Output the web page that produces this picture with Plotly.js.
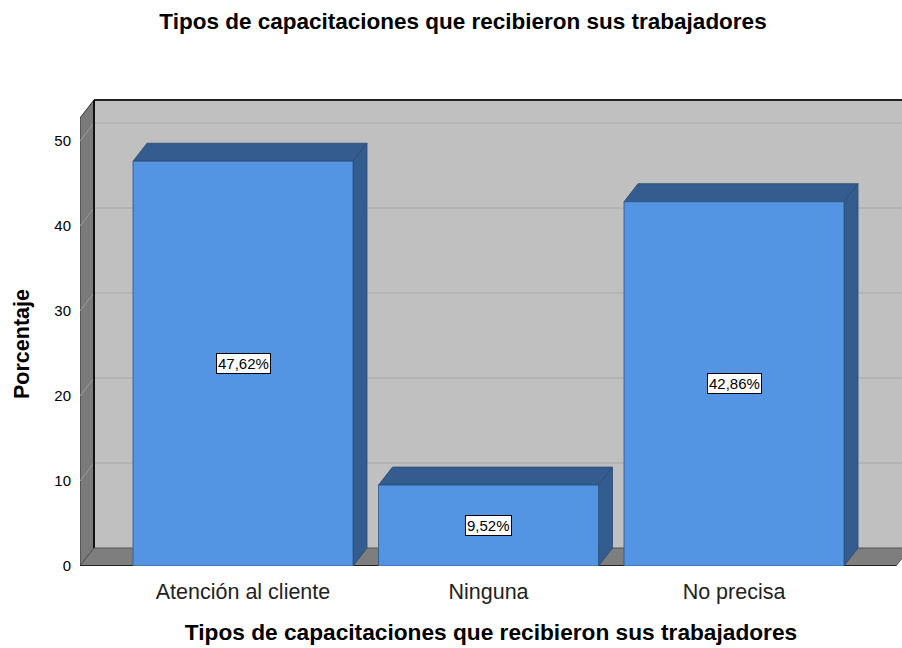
<!DOCTYPE html>
<html>
<head>
<meta charset="utf-8">
<script src="https://cdn.plot.ly/plotly-3.0.1.min.js"></script>
<style>html,body{margin:0;padding:0;background:#fff;}#chart{width:902px;height:648px;}</style>
</head>
<body>
<div id="chart"></div>
<script>
// ---- data ----
const categories = ["Atención al cliente", "Ninguna", "No precisa"];
const percentages = [47.62, 9.52, 42.86];
const yTickValues = [0, 10, 20, 30, 40, 50];
const chartTitle = "Tipos de capacitaciones que recibieron sus trabajadores";
const xTitle = "Tipos de capacitaciones que recibieron sus trabajadores";
const yTitle = "Porcentaje";

// ---- styling / geometry ----
const FONT = "Liberation Sans, Arial, sans-serif";
const frontColor = "#5394E3";
const darkFace = "#345C8F";
const wallColor = "#C0C0C0";
const sideWallColor = "#7A7A7A";
const gridColor = "#A8A8A8";

const W = 902, H = 648;
const mL = 80, mR = 0, mT = 98, mB = 82;
const plotW = W - mL - mR, plotH = H - mT - mB;
const pxPerY = 8.5;            // pixels per percentage unit
const pxPerX = 245.5;          // pixels per category step
const depthX = 14, depthY = 18; // 3D depth in px
const yMax = plotH / pxPerY;
const xMin = -(163 / pxPerX);
const xMax = xMin + plotW / pxPerX;
const dxu = depthX / pxPerX, dyu = depthY / pxPerY;
const barWidth = 220 / pxPerX;
const wallTop = (plotH - 2) / pxPerY;

const xs = categories.map((c, i) => i);

const shapes = [];
// back wall
shapes.push({type:"rect", xref:"x", yref:"y", layer:"below",
  x0:xMin+dxu, x1:xMax+1, y0:dyu, y1:wallTop,
  fillcolor:wallColor, line:{width:0}});
// back wall gridlines
yTickValues.forEach(v => {
  if (v === 0) return;
  shapes.push({type:"line", xref:"x", yref:"y", layer:"below",
    x0:xMin+dxu, x1:xMax+1, y0:v+dyu, y1:v+dyu, line:{color:gridColor, width:1}});
});
// back wall top edge
shapes.push({type:"line", xref:"x", yref:"y", layer:"below",
  x0:xMin+dxu, x1:xMax+1, y0:wallTop, y1:wallTop, line:{color:"#222", width:2}});
// left wall
const lw = `M ${xMin} 0 L ${xMin} ${wallTop-dyu} L ${xMin+dxu} ${wallTop} L ${xMin+dxu} ${dyu} Z`;
shapes.push({type:"path", xref:"x", yref:"y", layer:"below", path:lw,
  fillcolor:sideWallColor, line:{color:"#333", width:1}});
// left wall gridline extensions
yTickValues.forEach(v => {
  if (v === 0) return;
  shapes.push({type:"line", xref:"x", yref:"y", layer:"below",
    x0:xMin, x1:xMin+dxu, y0:v, y1:v+dyu, line:{color:"#9a9a9a", width:1}});
});
// back-left vertical edge
shapes.push({type:"line", xref:"x", yref:"y", layer:"below",
  x0:xMin+dxu, x1:xMin+dxu, y0:dyu, y1:wallTop, line:{color:"#111", width:2}});
// floor
const fr = xMax - 6 / pxPerX;
const fl = `M ${xMin} 0 L ${xMin+dxu} ${dyu} L ${fr+dxu} ${dyu} L ${fr} 0 Z`;
shapes.push({type:"path", xref:"x", yref:"y", layer:"below", path:fl,
  fillcolor:"#7E7E7E", line:{color:"#555", width:1}});
// front floor edge
shapes.push({type:"line", xref:"x", yref:"y", layer:"below",
  x0:xMin, x1:fr, y0:0, y1:0, line:{color:"#222", width:2}});
// bar top + side faces
xs.forEach((x, i) => {
  const v = percentages[i];
  const x0 = x - barWidth/2, x1 = x + barWidth/2;
  shapes.push({type:"path", xref:"x", yref:"y", layer:"below",
    path:`M ${x0} ${v} L ${x0+dxu} ${v+dyu} L ${x1+dxu} ${v+dyu} L ${x1} ${v} Z`,
    fillcolor:darkFace, line:{color:"#2A4A72", width:0.8}});
  shapes.push({type:"path", xref:"x", yref:"y", layer:"below",
    path:`M ${x1} 0 L ${x1} ${v} L ${x1+dxu} ${v+dyu} L ${x1+dxu} ${dyu} Z`,
    fillcolor:darkFace, line:{color:"#2A4A72", width:0.8}});
});

const annotations = xs.map((x, i) => ({
  x: x, y: percentages[i] / 2, xref:"x", yref:"y",
  text: percentages[i].toFixed(2).replace(".", ",") + "%",
  showarrow:false, bgcolor:"#fff", bordercolor:"#000", borderwidth:1, borderpad:1,
  font:{family:FONT, size:15, color:"#000"}
}));
// y axis title (placed centred on the front value axis)
annotations.push({
  text:"<b>"+yTitle+"</b>", textangle:-90, showarrow:false,
  xref:"paper", yref:"paper", x:(22 - mL) / plotW, y:(566 - 344) / plotH,
  xanchor:"center", yanchor:"middle",
  font:{family:FONT, size:21.5, color:"#000"}
});

const trace = {
  type:"bar", x: xs, y: percentages, width: barWidth,
  marker:{color:frontColor, line:{color:"#2E5480", width:0.8}},
  hoverinfo:"skip"
};

const layout = {
  width:W, height:H,
  margin:{l:mL, r:mR, t:mT, b:mB, pad:0},
  paper_bgcolor:"#fff", plot_bgcolor:"#fff",
  showlegend:false,
  title:{text:"<b>"+chartTitle+"</b>", font:{family:FONT, size:22.5, color:"#000"},
    x:463/W, xanchor:"center", xref:"container", y:1-21/H, yanchor:"middle", yref:"container"},
  xaxis:{range:[xMin, xMax], tickvals:xs, ticktext:categories, showgrid:false, zeroline:false,
    showline:false, ticks:"outside", ticklen:6, tickcolor:"rgba(0,0,0,0)",
    tickfont:{family:FONT, size:21.5, color:"#222"},
    title:{text:"<b>"+xTitle+"</b>", font:{family:FONT, size:22.7, color:"#000"}, standoff:21},
    fixedrange:true},
  yaxis:{range:[0, yMax], tickvals:yTickValues, showgrid:false, zeroline:false, showline:false,
    ticks:"outside", ticklen:5, tickcolor:"rgba(0,0,0,0)",
    tickfont:{family:FONT, size:15, color:"#000"},
    fixedrange:true},
  shapes: shapes,
  annotations: annotations
};

Plotly.newPlot("chart", [trace], layout, {staticPlot:true, displayModeBar:false});
</script>
</body>
</html>
